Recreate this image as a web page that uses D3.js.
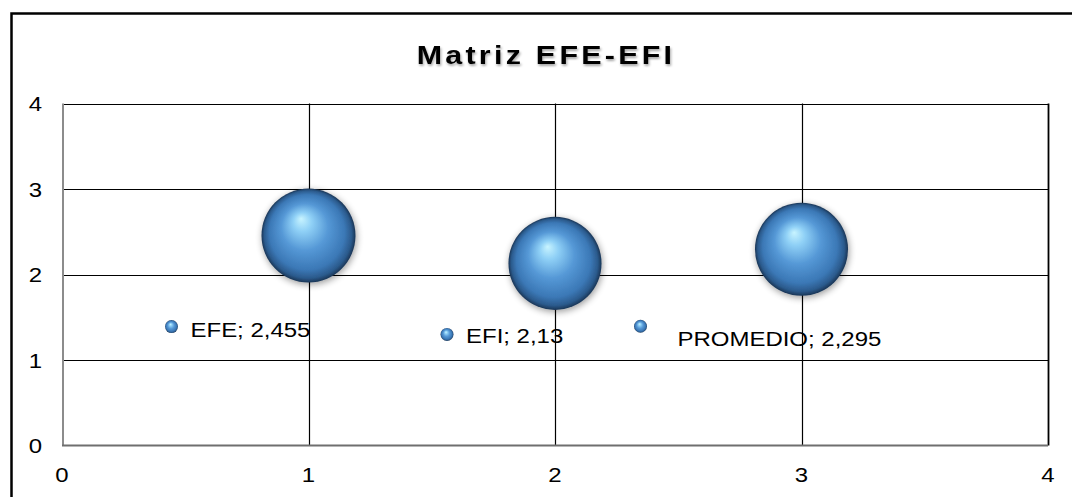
<!DOCTYPE html>
<html>
<head>
<meta charset="utf-8">
<script src="https://cdn.jsdelivr.net/npm/d3@7"></script>
<style>
  body { margin: 0; background: #fff; }
  svg text { font-family: "Liberation Sans", Arial, sans-serif; fill: #000; }
</style>
</head>
<body>
<svg id="chart" width="1072" height="497"></svg>
<script>
// data
const names = ["EFE", "EFI", "PROMEDIO"];
const xValues = [1, 2, 3];
const yValues = [2.455, 2.13, 2.295];
const labelText = ["EFE; 2,455", "EFI; 2,13", "PROMEDIO; 2,295"];
const bubbleSizes = [1, 0.98, 0.98];
const xTicks = [0, 1, 2, 3, 4];
const yTicks = [0, 1, 2, 3, 4];
const title = "Matriz EFE-EFI";

// where excel dropped the data labels (pixel offsets from the bubble)
const keyOffsets = [[-137, 91], [-108, 71], [-161, 77]];
const textOffsets = [[19, 10], [19, 9], [37, 20]];

const stretch = 1.17; // the original picture is stretched sideways
const svg = d3.select("#chart");
const margin = {top: 103.5, right: 24, bottom: 51.5, left: 62};
const width = 1072, height = 497;

const x = d3.scaleLinear().domain([0, 4]).range([margin.left, width - margin.right]);
const y = d3.scaleLinear().domain([0, 4]).range([height - margin.bottom, margin.top]);
const r = d3.scaleSqrt().domain([0, 1]).range([0, 47]);

const defs = svg.append("defs");
const grad = defs.append("radialGradient")
    .attr("id", "ball")
    .attr("cx", "50%").attr("cy", "50%").attr("r", "50%")
    .attr("fx", "42%").attr("fy", "32%");
[[0, "#c8f4ff"], [0.2, "#8fd0f6"], [0.5, "#5598d6"], [0.8, "#3b78b6"], [0.93, "#2b5a8c"], [1, "#1a3555"]]
    .forEach(s => grad.append("stop").attr("offset", s[0]).attr("stop-color", s[1]));

const shadow = defs.append("filter").attr("id", "shadow")
    .attr("x", "-30%").attr("y", "-30%").attr("width", "160%").attr("height", "160%");
shadow.append("feGaussianBlur").attr("in", "SourceAlpha").attr("stdDeviation", 3.5);
shadow.append("feOffset").attr("dx", 1).attr("dy", 2).attr("result", "b");
shadow.append("feComponentTransfer").append("feFuncA").attr("type", "linear").attr("slope", 0.4);
const merge = shadow.append("feMerge");
merge.append("feMergeNode");
merge.append("feMergeNode").attr("in", "SourceGraphic");

const tshadow = defs.append("filter").attr("id", "tshadow")
    .attr("x", "-10%").attr("y", "-30%").attr("width", "120%").attr("height", "160%");
tshadow.append("feGaussianBlur").attr("in", "SourceAlpha").attr("stdDeviation", 1.2);
tshadow.append("feOffset").attr("dx", 1).attr("dy", 1.5);
tshadow.append("feComponentTransfer").append("feFuncA").attr("type", "linear").attr("slope", 0.35);
const tmerge = tshadow.append("feMerge");
tmerge.append("feMergeNode");
tmerge.append("feMergeNode").attr("in", "SourceGraphic");

// chart border
svg.append("rect")
    .attr("x", 11.5).attr("y", 13.5)
    .attr("width", 1070).attr("height", 500)
    .attr("fill", "none").attr("stroke", "#000").attr("stroke-width", 2.5);

// title
svg.append("text")
    .attr("transform", `translate(546,64) scale(${stretch},1)`)
    .attr("text-anchor", "middle")
    .attr("font-size", 26)
    .attr("font-weight", "bold")
    .attr("letter-spacing", 2.8)
    .attr("filter", "url(#tshadow)")
    .text(title);

// gridlines
svg.append("g").selectAll("line")
    .data(yTicks.slice(1))
    .join("line")
        .attr("x1", x(0)).attr("x2", x(4))
        .attr("y1", d => Math.round(y(d)) + 0.5).attr("y2", d => Math.round(y(d)) + 0.5)
        .attr("stroke", "#000").attr("stroke-width", 1.2);

svg.append("g").selectAll("line")
    .data(xTicks.slice(1))
    .join("line")
        .attr("x1", d => Math.round(x(d)) + 0.5).attr("x2", d => Math.round(x(d)) + 0.5)
        .attr("y1", y(0)).attr("y2", y(4))
        .attr("stroke", "#000").attr("stroke-width", d => d === 4 ? 1.8 : 1.2);

// axes (grey lines, no tick marks)
svg.append("line")
    .attr("x1", x(0) + 1).attr("x2", x(0) + 1).attr("y1", y(4)).attr("y2", y(0))
    .attr("stroke", "#8c8c8c").attr("stroke-width", 2);
svg.append("line")
    .attr("x1", x(0)).attr("x2", x(4)).attr("y1", y(0)).attr("y2", y(0))
    .attr("stroke", "#6f6f6f").attr("stroke-width", 2);

svg.append("g").selectAll("text")
    .data(yTicks)
    .join("text")
        .attr("transform", d => `translate(42,${y(d) + 7.5}) scale(${stretch},1)`)
        .attr("text-anchor", "end")
        .attr("font-size", 20.5)
        .text(d => d);

svg.append("g").selectAll("text")
    .data(xTicks)
    .join("text")
        .attr("transform", d => `translate(${x(d)},${y(0) + 36}) scale(${stretch},1)`)
        .attr("text-anchor", "middle")
        .attr("font-size", 20.5)
        .text(d => d);

// bubbles
const points = names.map((n, i) => ({name: n, x: xValues[i], y: yValues[i], size: bubbleSizes[i], label: labelText[i], i}));

svg.append("g").selectAll("circle")
    .data(points)
    .join("circle")
        .attr("cx", d => x(d.x))
        .attr("cy", d => y(d.y))
        .attr("r", d => r(d.size))
        .attr("fill", "url(#ball)")
        .attr("filter", "url(#shadow)");

// data labels with legend keys
const labels = svg.append("g").selectAll("g")
    .data(points)
    .join("g")
        .attr("transform", d => `translate(${x(d.x) + keyOffsets[d.i][0]},${y(d.y) + keyOffsets[d.i][1]})`);

labels.append("circle")
    .attr("r", 6.5)
    .attr("fill", "url(#ball)");

labels.append("text")
    .attr("transform", d => `translate(${textOffsets[d.i][0]},${textOffsets[d.i][1]}) scale(${stretch},1)`)
    .attr("font-size", 20.5)
    .text(d => d.label);
</script>
</body>
</html>
